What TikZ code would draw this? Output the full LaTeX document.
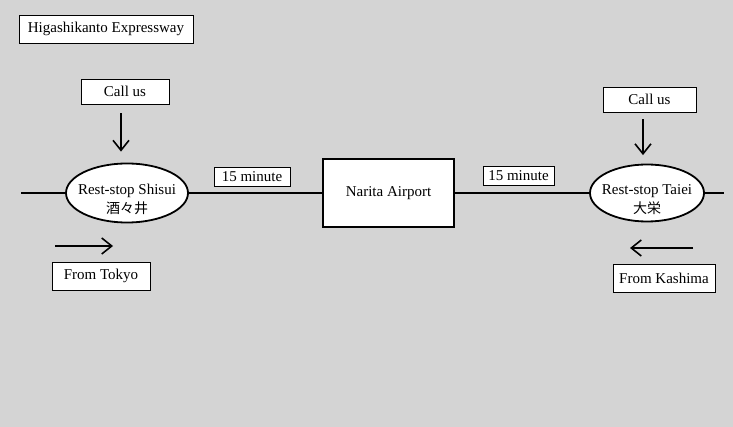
\documentclass[tikz,border=0pt]{standalone}
\usepackage{fontspec}
\setmainfont{Liberation Serif}
\newfontfamily\jpfont{Noto Sans CJK JP}
\usetikzlibrary{positioning,shapes.geometric,arrows.meta}
\definecolor{PanelGray}{RGB}{212,212,212}

\begin{document}
\begin{tikzpicture}[
      x=1pt, y=-1pt,
      font=\fontsize{15}{19}\selectfont,
      tagbox/.style={rectangle, draw=black, fill=white, line width=0.9pt, inner sep=0pt},
      stop/.style={ellipse, draw=black, fill=white, line width=1.8pt, align=center, inner xsep=-8pt, inner ysep=-4pt},
      hub/.style={rectangle, draw=black, fill=white, line width=1.8pt, minimum width=131pt, minimum height=68pt},
      road/.style={line width=1.8pt},
      arrow/.style={-{Straight Barb[length=10pt,width=16pt]}, line width=1.6pt}
    ]
      \fill[PanelGray] (0,0) rectangle (733,427);
      \useasboundingbox (0,0) rectangle (733,427);

      \node[tagbox, minimum width=174pt, minimum height=28pt] (title) at (106,29) {Higashikanto Expressway};
      \node[tagbox, minimum width=88pt, minimum height=25pt] (callW) at (125,91.5) {Call us};
      \node[tagbox, minimum width=93pt, minimum height=25pt] (callE) at (649.5,99.5) {Call us};

      \node[stop, minimum width=122pt, minimum height=59pt] (shisui) at (127,193) {\rule{0pt}{24pt}Rest-stop Shisui\\{\jpfont\fontsize{14}{19}\selectfont 酒々井}};
      \node[hub] (narita) at (388.5,193) {Narita Airport};
      \node[stop, minimum width=114pt, minimum height=57pt] (taiei) at (647,193) {\rule{0pt}{24pt}Rest-stop Taiei\\{\jpfont\fontsize{14}{19}\selectfont 大栄}};

      \node[tagbox, minimum width=76pt, minimum height=19pt] (timeW) at (252,176.5) {15 minute};
      \node[tagbox, minimum width=71pt, minimum height=19pt] (timeE) at (518.5,176) {15 minute};

      \node[tagbox, minimum width=98pt, minimum height=28pt] (tokyo) at (101,276) {From Tokyo};
      \node[tagbox, minimum width=102pt, minimum height=28pt] (kashima) at (664,278) {From Kashima};

      \coordinate (roadW) at (21,193);
      \coordinate (roadE) at (724,193);
      \coordinate (tokyoTail) at (55,246);
      \coordinate (tokyoHead) at (113,246);
      \coordinate (kashimaTail) at (693,248);
      \coordinate (kashimaHead) at (630,248);

      \draw[road] (roadW) -- (shisui);
      \draw[road] (shisui) -- (narita);
      \draw[road] (narita) -- (taiei);
      \draw[road] (taiei) -- (roadE);

      \draw[arrow, shorten <=9pt, shorten >=11pt] ([xshift=-4pt]callW.south) -- ([xshift=-6pt]shisui.north);
      \draw[arrow, shorten <=7pt, shorten >=8.5pt] ([xshift=-6.5pt]callE.south) -- ([xshift=-4pt]taiei.north);
      \draw[arrow] (tokyoTail) -- (tokyoHead);
      \draw[arrow] (kashimaTail) -- (kashimaHead);
    \end{tikzpicture}
\end{document}
